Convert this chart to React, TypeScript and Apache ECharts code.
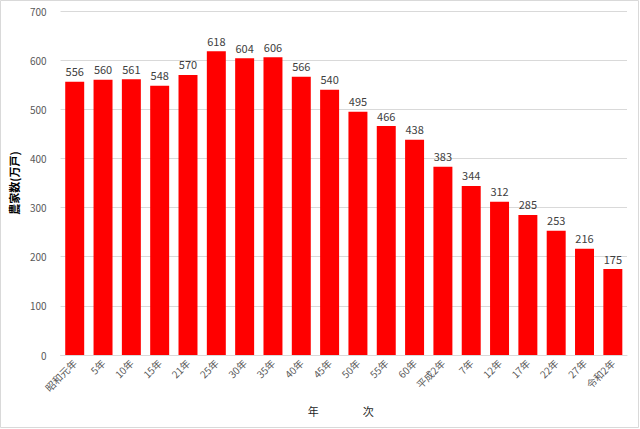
import React, { useEffect, useRef } from "react";
import * as echarts from "echarts";

const categories = ["昭和元年", "5年", "10年", "15年", "21年", "25年", "30年", "35年", "40年", "45年", "50年", "55年", "60年", "平成2年", "7年", "12年", "17年", "22年", "27年", "令和2年"];
const farmHouseholds = [556, 560, 561, 548, 570, 618, 604, 606, 566, 540, 495, 466, 438, 383, 344, 312, 285, 253, 216, 175];
const yTicks = { min: 0, max: 700, interval: 100 };

const FONT = "'Noto Sans CJK JP', 'Noto Sans', sans-serif";

export default function App() {
  const ref = useRef<HTMLDivElement>(null);
  useEffect(() => {
    if (!ref.current) return;
    const chart = echarts.init(ref.current, null, { renderer: "svg" });
    chart.setOption({
      animation: false,
      backgroundColor: "#ffffff",
      textStyle: { fontFamily: FONT },
      graphic: [
        {
          type: "rect",
          shape: { x: 0.5, y: 0.5, width: 638, height: 427 },
          style: { fill: "none", stroke: "#d9d9d9", lineWidth: 1 },
          silent: true,
        },
      ],
      grid: { left: 54, right: 13, top: 11, bottom: 74 },
      xAxis: {
        type: "category",
        data: categories,
        name: "年　　　　次",
        nameLocation: "middle",
        nameGap: 50,
        nameTextStyle: { fontSize: 11, color: "#262626", fontFamily: FONT, padding: [0, 6, 0, 0] },
        axisLine: { lineStyle: { color: "#d9d9d9", width: 1 } },
        axisTick: { show: false },
        axisLabel: { interval: 0, rotate: 45, fontSize: 10, color: "#595959", margin: 6, fontFamily: FONT },
      },
      yAxis: {
        type: "value",
        min: yTicks.min,
        max: yTicks.max,
        interval: yTicks.interval,
        name: "農家数(万戸)",
        nameLocation: "middle",
        nameRotate: 90,
        nameGap: 32,
        nameTextStyle: { fontSize: 11, color: "#000", fontWeight: "bold", fontFamily: FONT },
        axisLine: { show: false },
        axisTick: { show: false },
        axisLabel: { fontSize: 10, color: "#595959", margin: 14, fontFamily: FONT },
        splitLine: { lineStyle: { color: "#d9d9d9", width: 1 } },
      },
      series: [
        {
          type: "bar",
          data: farmHouseholds,
          barCategoryGap: "33%",
          itemStyle: { color: "#ff0000" },
          label: { show: true, position: "top", fontSize: 11, color: "#404040", distance: 5, fontFamily: FONT },
        },
      ],
    });
    return () => chart.dispose();
  }, []);
  return <div ref={ref} style={{ width: 640, height: 429, position: "absolute", left: 0, top: 0 }} />;
}
